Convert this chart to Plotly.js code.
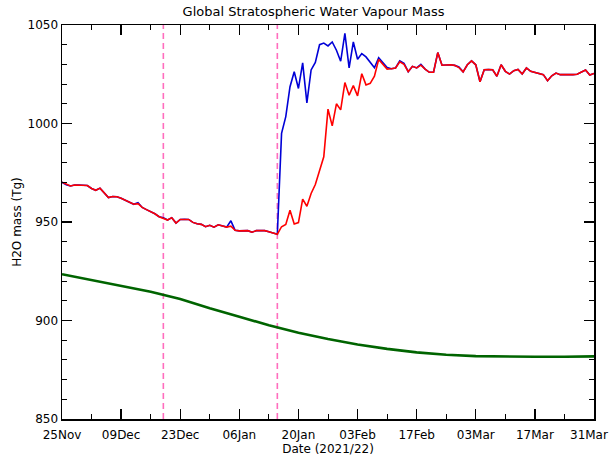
<!DOCTYPE html>
<html>
<head>
<meta charset="utf-8">
<script src="https://cdn.plot.ly/plotly-3.0.1.min.js"></script>
<style>
  html, body { margin: 0; padding: 0; background: #fff; }
  #chart { width: 610px; height: 457px; }
</style>
</head>
<body>
<div id="chart"></div>
<script>
// ---- data ----
const startDate = '2021-11-25';
const redMass = [
  970.2, 969.4, 968.3, 968.8, 968.8, 968.7, 968.5, 967.0, 966.1, 967.2,
  964.6, 962.4, 962.9, 962.8, 962.0, 961.0, 960.4, 959.0, 959.3, 957.4,
  956.3, 955.3, 954.2, 952.7, 951.8, 951.0, 952.2, 949.5, 951.3, 951.4,
  951.3, 949.8, 949.1, 948.8, 947.6, 948.3, 947.4, 948.6, 948.0, 947.4,
  947.9, 945.8, 945.5, 945.4, 945.6, 944.8, 945.6, 945.6, 945.6, 945.1,
  944.6, 943.8, 947.6, 948.8, 956.0, 949.0, 949.7, 961.6, 958.0, 964.5,
  969.0, 975.5, 983.1, 1007.3, 998.8, 1010.0, 1006.9, 1020.8, 1014.4, 1019.2,
  1014.0, 1025.3, 1019.6, 1020.4, 1024.0, 1032.5, 1030.2, 1027.6, 1027.8, 1028.2,
  1031.3, 1030.0, 1026.3, 1029.0, 1028.2, 1029.6, 1027.6, 1026.0, 1026.0, 1036.0,
  1029.6, 1029.8, 1029.8, 1029.5, 1028.4, 1026.2, 1029.8, 1031.8, 1029.8, 1021.2,
  1027.3, 1027.4, 1027.3, 1024.0, 1029.8, 1026.5, 1025.1, 1026.8, 1027.4, 1025.1,
  1028.2, 1026.5, 1026.0, 1025.6, 1024.8, 1021.7, 1024.2, 1025.6, 1024.8, 1024.8,
  1024.7, 1024.8, 1025.0, 1026.0, 1027.2, 1024.6, 1025.4
];
const blueMass = [
  970.2, 968.9, 968.3, 968.8, 968.8, 968.7, 968.5, 967.0, 966.1, 967.2,
  964.6, 962.4, 962.9, 962.8, 962.0, 961.0, 960.4, 959.0, 959.8, 957.4,
  956.3, 955.3, 954.2, 952.7, 952.2, 951.0, 952.2, 949.5, 951.3, 951.4,
  951.3, 949.8, 949.1, 948.8, 947.6, 948.3, 947.4, 948.6, 948.0, 947.4,
  950.6, 945.8, 945.5, 945.4, 945.6, 944.8, 945.6, 945.6, 945.6, 945.1,
  944.6, 943.8, 995.0, 1003.5, 1018.7, 1026.3, 1017.8, 1030.8, 1010.5, 1027.2,
  1031.0, 1040.0, 1040.8, 1039.4, 1041.4, 1037.2, 1031.6, 1045.8, 1028.2, 1041.4,
  1032.6, 1035.5, 1033.8, 1031.0, 1028.3, 1033.4, 1030.8, 1028.4, 1027.8, 1028.2,
  1031.8, 1030.6, 1026.3, 1029.0, 1028.2, 1030.0, 1027.6, 1026.0, 1026.0, 1036.0,
  1029.6, 1029.8, 1029.8, 1029.5, 1028.7, 1026.2, 1029.8, 1031.8, 1029.8, 1021.2,
  1027.3, 1027.4, 1027.3, 1024.0, 1029.8, 1026.5, 1025.1, 1026.8, 1027.4, 1025.1,
  1028.2, 1026.5, 1026.0, 1025.6, 1024.8, 1021.7, 1024.2, 1025.6, 1024.8, 1024.8,
  1024.7, 1024.8, 1025.0, 1026.0, 1027.2, 1024.6, 1025.4
];
const greenDates = [
  '2021-11-25', '2021-12-02', '2021-12-09', '2021-12-16', '2021-12-23', '2021-12-30',
  '2022-01-06', '2022-01-13', '2022-01-20', '2022-01-27', '2022-02-03', '2022-02-10',
  '2022-02-17', '2022-02-24', '2022-03-03', '2022-03-10', '2022-03-17', '2022-03-24',
  '2022-03-31'
];
const greenMass = [
  923.5, 920.5, 917.5, 914.6, 910.9, 906.2,
  901.9, 897.6, 893.8, 890.6, 887.8, 885.6,
  883.8, 882.6, 881.9, 881.6, 881.6, 881.6,
  881.8
];
const eventDates = ['2021-12-19', '2022-01-15'];
const tickDates = ['2021-11-25', '2021-12-09', '2021-12-23', '2022-01-06', '2022-01-20',
                   '2022-02-03', '2022-02-17', '2022-03-03', '2022-03-17', '2022-03-31'];
const tickLabels = ['25Nov', '09Dec', '23Dec', '06Jan', '20Jan',
                    '03Feb', '17Feb', '03Mar', '17Mar', '31Mar'];

// daily dates from the start date
function dayDates(start, n) {
  const out = [];
  const t0 = Date.parse(start + 'T00:00:00Z');
  for (let i = 0; i < n; i++) {
    out.push(new Date(t0 + i * 86400000).toISOString().slice(0, 10));
  }
  return out;
}
const days = dayDates(startDate, redMass.length);

const FONT = 'DejaVu Sans, Liberation Sans, sans-serif';

const traces = [
  { x: days, y: blueMass, type: 'scatter', mode: 'lines',
    line: { color: 'rgb(0,0,215)', width: 1.6 }, hoverinfo: 'skip' },
  { x: days, y: redMass, type: 'scatter', mode: 'lines',
    line: { color: 'rgb(255,0,0)', width: 1.6 }, hoverinfo: 'skip' },
  { x: greenDates, y: greenMass, type: 'scatter', mode: 'lines',
    line: { color: 'rgb(0,100,0)', width: 2.6 }, hoverinfo: 'skip' }
];

const shapes = eventDates.map(d => ({
  type: 'line', xref: 'x', yref: 'paper', x0: d, x1: d, y0: 0, y1: 1,
  line: { color: 'rgb(255,110,190)', width: 1.6, dash: '6px,4px' }, layer: 'below'
}));

// the last tick label sits at the very edge; draw it as an annotation nudged inward
const nTick = tickDates.length;
const shownTickText = tickLabels.map((t, i) => (i === nTick - 1 ? '' : t));
const annotations = [{
  x: tickDates[nTick - 1], xref: 'x', y: 0, yref: 'paper',
  text: tickLabels[nTick - 1], showarrow: false,
  xanchor: 'right', yanchor: 'top', xshift: 15, yshift: -8, borderpad: 0,
  font: { family: FONT, size: 12, color: '#000' }
}];

const layout = {
  width: 610, height: 457,
  margin: { l: 62, r: 16, t: 25, b: 38 },
  paper_bgcolor: '#fff', plot_bgcolor: '#fff',
  showlegend: false,
  font: { family: FONT, size: 12, color: '#000' },
  title: { text: 'Global Stratospheric Water Vapour Mass',
           font: { family: FONT, size: 13, color: '#000' },
           x: 0.514, xref: 'container', xanchor: 'center',
           y: 0.975, yref: 'container', yanchor: 'middle' },
  xaxis: {
    type: 'date', range: ['2021-11-24 23:59', '2022-03-31 00:01'],
    tickmode: 'array', tickvals: tickDates, ticktext: shownTickText,
    ticks: 'inside', ticklen: 10, tickwidth: 1.3, tickcolor: '#000',
    ticklabelstandoff: 4,
    minor: { dtick: 7 * 86400000, tick0: '2021-11-25', ticks: 'inside', ticklen: 5, tickwidth: 1, tickcolor: '#000', showgrid: false },
    showline: true, linecolor: '#000', linewidth: 1.5, mirror: 'allticks',
    showgrid: false, zeroline: false,
    tickfont: { family: FONT, size: 12 },
    title: { text: 'Date (2021/22)', font: { family: FONT, size: 12 }, standoff: 2 }
  },
  yaxis: {
    range: [850, 1050], tickmode: 'linear', tick0: 850, dtick: 50,
    ticks: 'inside', ticklen: 10, tickwidth: 1.3, tickcolor: '#000',
    minor: { dtick: 10, ticks: 'inside', ticklen: 5, tickwidth: 1, tickcolor: '#000', showgrid: false },
    showline: true, linecolor: '#000', linewidth: 1.5, mirror: 'allticks',
    showgrid: false, zeroline: false,
    tickfont: { family: FONT, size: 12 },
    title: { text: 'H2O mass (Tg)', font: { family: FONT, size: 12 }, standoff: 3 }
  },
  shapes: shapes,
  annotations: annotations
};

Plotly.newPlot('chart', traces, layout, { staticPlot: true, displayModeBar: false });
</script>
</body>
</html>
